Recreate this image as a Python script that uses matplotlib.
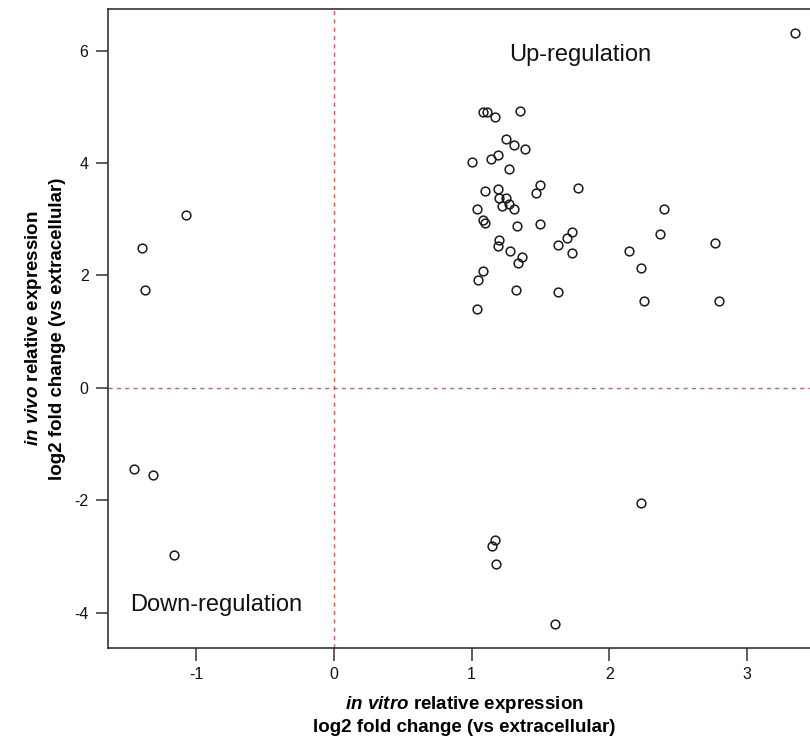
import matplotlib.pyplot as plt
import numpy as np

plt.rcParams['font.family'] = ['Liberation Sans', 'DejaVu Sans']
plt.rcParams['mathtext.fontset'] = 'custom'
plt.rcParams['mathtext.it'] = 'Liberation Sans:italic:bold'
plt.rcParams['mathtext.rm'] = 'Liberation Sans:bold'
plt.rcParams['mathtext.bf'] = 'Liberation Sans:bold'

# in vitro log2 fold change (x) vs in vivo log2 fold change (y)
in_vitro = [-1.39, -1.37, -1.07, -1.45, -1.31, -1.16,
            1.08, 1.11, 1.17, 1.35, 1.25, 1.31, 1.385, 1.00, 1.14, 1.19,
            1.27, 1.50, 1.47, 1.77, 1.10, 1.19, 1.20, 1.25, 1.27, 1.31,
            1.22, 1.04, 1.08, 1.10, 1.33, 1.50, 1.20, 1.19, 1.28, 1.37,
            1.34, 1.73, 1.69, 1.63, 1.73, 1.08, 1.05, 1.32, 1.63, 1.04,
            2.40, 2.37, 2.77, 2.14, 2.23, 2.25, 2.80, 3.35,
            1.167, 1.15, 1.18, 1.605, 2.23]
in_vivo = [2.49, 1.74, 3.07, -1.44, -1.55, -2.97,
           4.91, 4.91, 4.82, 4.93, 4.42, 4.32, 4.25, 4.02, 4.07, 4.14,
           3.89, 3.61, 3.46, 3.55, 3.51, 3.54, 3.37, 3.37, 3.27, 3.18,
           3.23, 3.18, 2.98, 2.94, 2.88, 2.92, 2.63, 2.53, 2.44, 2.32,
           2.22, 2.77, 2.67, 2.54, 2.39, 2.07, 1.92, 1.74, 1.71, 1.41,
           3.19, 2.73, 2.57, 2.43, 2.14, 1.55, 1.55, 6.31,
           -2.70, -2.82, -3.14, -4.21, -2.05]

x_ticks = [-1, 0, 1, 2, 3]
y_ticks = [-4, -2, 0, 2, 4, 6]

fig = plt.figure(figsize=(8.1, 7.38), dpi=100)
ax = fig.add_axes([108 / 810, 1 - 648 / 738, (820 - 108) / 810, (648 - 9) / 738])

# dashed reference lines at zero
ax.axvline(0, color='#e0585c', lw=1.0, ls=(0, (3, 3)), zorder=1)
ax.axhline(0, color='#b0686a', lw=1.0, ls=(0, (3, 3)), zorder=1)

ax.plot(in_vitro, in_vivo, 'o', mfc='none', mec='#1a1a1a', ms=6.3, mew=1.1, zorder=3)

ax.set_xlim(-1.639, 3.53)
ax.set_ylim(-4.63, 6.74)
ax.set_xticks(x_ticks)
ax.set_yticks(y_ticks)
ax.set_xticklabels([str(t) for t in x_ticks])
ax.set_yticklabels([str(t) for t in y_ticks])
ax.tick_params(direction='out', length=9, width=1.1, color='#333333',
               labelsize=11.5, pad=5, labelcolor='#111111')

for s in ['left', 'bottom', 'top']:
    ax.spines[s].set_linewidth(1.2)
    ax.spines[s].set_color('#333333')
ax.spines['right'].set_visible(False)

ax.text(1.79, 5.93, 'Up-regulation', fontsize=17, ha='center', va='center', color='#111111')
ax.text(-0.85, -3.86, 'Down-regulation', fontsize=17, ha='center', va='center', color='#111111')

ax.set_xlabel('$\\mathit{in\\ vitro}$ relative expression\nlog2 fold change (vs extracellular)',
              fontsize=13.5, fontweight='bold', labelpad=8, linespacing=1.35)
ax.set_ylabel('$\\mathit{in\\ vivo}$ relative expression\nlog2 fold change (vs extracellular)',
              fontsize=13.5, fontweight='bold', labelpad=6, linespacing=1.35)

fig.savefig('out.png', dpi=100)
